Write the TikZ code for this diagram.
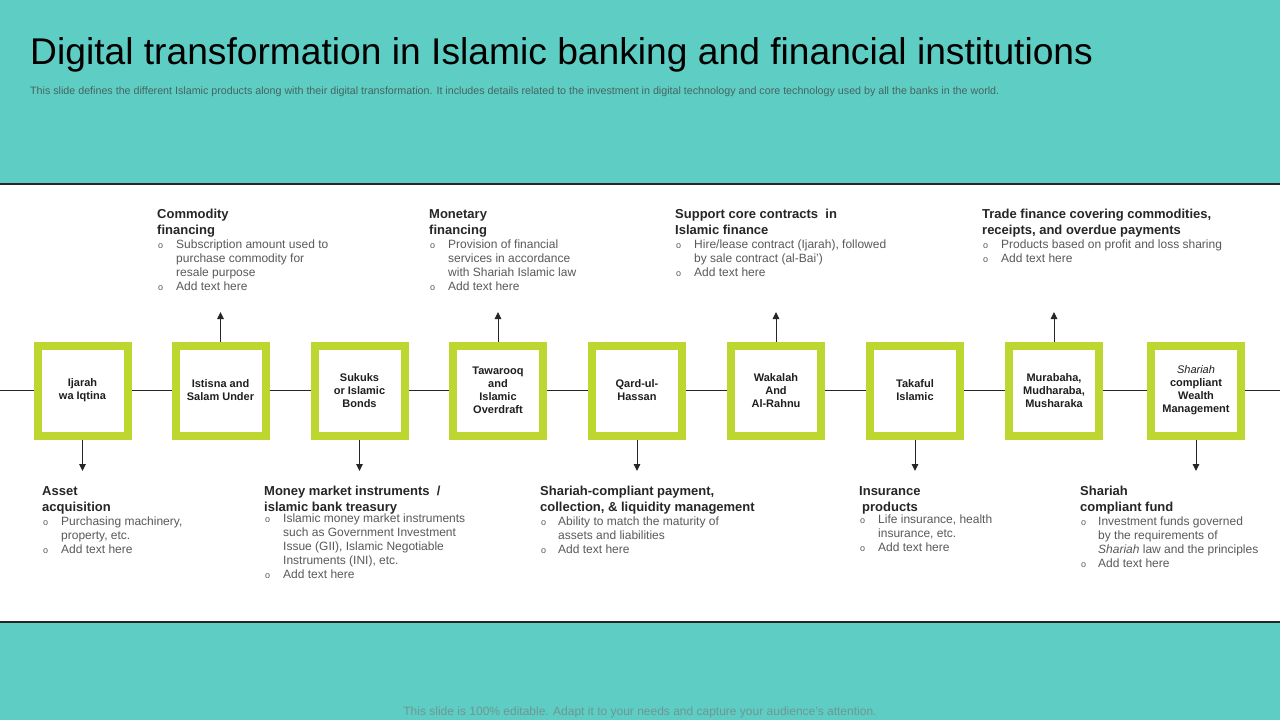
\documentclass[tikz,border=0pt]{standalone}
\usepackage{fontspec}
\setmainfont{Liberation Sans}
\usetikzlibrary{arrows.meta}
\definecolor{teal1}{RGB}{94,205,196}
\definecolor{lime1}{RGB}{190,214,48}
\definecolor{headc}{RGB}{38,38,38}
\definecolor{bodyc}{RGB}{89,89,89}
\definecolor{subc}{RGB}{72,100,97}
\definecolor{footc}{RGB}{112,150,146}
\newcommand\hdrow[1]{\multicolumn{2}{@{}l@{}}{\fontsize{13}{15}\selectfont\bfseries\color{headc}#1}}
\newcommand\bul{\hspace*{1pt}{\fontsize{9}{9}\selectfont o}}
\begin{document}
\begin{tikzpicture}[x=1pt,y=-1pt,
  prod/.style={draw=lime1, line width=8pt, fill=white, minimum width=90pt, minimum height=90pt,
    inner sep=0pt, outer sep=4pt, align=center, font=\fontsize{11}{13}\selectfont\bfseries, text=black!88},
  blk/.style={anchor=base west, inner sep=0pt, font=\fontsize{12}{14}\selectfont, text=bodyc},
  conn/.style={draw=black!85, line width=1pt},
  arr/.style={conn, -{Triangle[length=7pt,width=6.5pt]}},
  sep/.style={draw=black!85, line width=1.1pt}]
\useasboundingbox (0,0) rectangle (1280,720);
\fill[teal1] (0,0) rectangle (1280,184);
\fill[white] (0,184) rectangle (1280,622);
\fill[teal1] (0,622) rectangle (1280,720);
\coordinate (s1l) at (0,184); \coordinate (s1r) at (1280,184);
\coordinate (s2l) at (0,622); \coordinate (s2r) at (1280,622);
\draw[sep] (s1l) -- (s1r);
\draw[sep] (s2l) -- (s2r);

\node[anchor=base west, inner sep=0pt, font=\fontsize{37.2}{40}\selectfont, text=black] (title) at (30,64.5)
  {Digital transformation in Islamic banking and financial institutions};
\node[anchor=base west, inner sep=0pt, font=\fontsize{10.7}{12}\selectfont, text=subc] (sub) at (30,94.5)
  {This slide defines the different Islamic products along with their digital transformation. It includes details related to the investment in digital technology and core technology used by all the banks in the world.};
\node[anchor=base, inner sep=0pt, font=\fontsize{12}{14}\selectfont, text=footc] (foot) at (640,715.5)
  {This slide is 100\% editable. Adapt it to your needs and capture your audience's attention.};

% boxes
\node[prod] (b1) at (82.5,390.5) {Ijarah\\wa Iqtina};
\node[prod] (b2) at (220.5,390.5) {Istisna and\\Salam Under};
\node[prod] (b3) at (359.5,390.5) {Sukuks\\or Islamic\\Bonds};
\node[prod] (b4) at (498,390.5) {Tawarooq\\and\\Islamic\\Overdraft};
\node[prod] (b5) at (637,390.5) {Qard-ul-\\Hassan};
\node[prod] (b6) at (776,390.5) {Wakalah\\And\\Al-Rahnu};
\node[prod] (b7) at (915,390.5) {Takaful\\Islamic};
\node[prod] (b8) at (1054,390.5) {Murabaha,\\Mudharaba,\\Musharaka};
\node[prod] (b9) at (1196,390.5) {{\mdseries\itshape Shariah}\\compliant\\Wealth\\Management};

\coordinate (L) at (0,390.5);
\coordinate (R) at (1280,390.5);
\draw[conn] (L) -- (b1.west);
\draw[conn] (b1.east) -- (b2.west);
\draw[conn] (b2.east) -- (b3.west);
\draw[conn] (b3.east) -- (b4.west);
\draw[conn] (b4.east) -- (b5.west);
\draw[conn] (b5.east) -- (b6.west);
\draw[conn] (b6.east) -- (b7.west);
\draw[conn] (b7.east) -- (b8.west);
\draw[conn] (b8.east) -- (b9.west);
\draw[conn] (b9.east) -- (R);

% arrows
\coordinate (u2) at (220.5,312);
\coordinate (u4) at (498,312);
\coordinate (u6) at (776,312);
\coordinate (u8) at (1054,312);
\coordinate (d1) at (82.5,471);
\coordinate (d3) at (359.5,471);
\coordinate (d5) at (637,471);
\coordinate (d7) at (915,471);
\coordinate (d9) at (1196,471);
\draw[arr] (b2.north) -- (u2);
\draw[arr] (b4.north) -- (u4);
\draw[arr] (b6.north) -- (u6);
\draw[arr] (b8.north) -- (u8);
\draw[arr] (b1.south) -- (d1);
\draw[arr] (b3.south) -- (d3);
\draw[arr] (b5.south) -- (d5);
\draw[arr] (b7.south) -- (d7);
\draw[arr] (b9.south) -- (d9);

% top texts
\node[blk] (t2) at (157,218.5) {\begin{tabular}[t]{@{}p{19pt}@{}l@{}}
\hdrow{Commodity}\\[2pt]
\hdrow{financing}\\
\bul & Subscription amount used to\\
 & purchase commodity for\\
 & resale purpose\\
\bul & Add text here
\end{tabular}};
\node[blk] (t4) at (429,218.5) {\begin{tabular}[t]{@{}p{19pt}@{}l@{}}
\hdrow{Monetary}\\[2pt]
\hdrow{financing}\\
\bul & Provision of financial\\
 & services in accordance\\
 & with Shariah Islamic law\\
\bul & Add text here
\end{tabular}};
\node[blk] (t6) at (675,218.5) {\begin{tabular}[t]{@{}p{19pt}@{}l@{}}
\hdrow{Support core contracts\ \ in}\\[2pt]
\hdrow{Islamic finance}\\
\bul & Hire/lease contract (Ijarah), followed\\
 & by sale contract (al-Bai')\\
\bul & Add text here
\end{tabular}};
\node[blk] (t8) at (982,218.5) {\begin{tabular}[t]{@{}p{19pt}@{}l@{}}
\hdrow{Trade finance covering commodities,}\\[2pt]
\hdrow{receipts, and overdue payments}\\
\bul & Products based on profit and loss sharing\\
\bul & Add text here
\end{tabular}};

% bottom texts
\node[blk] (t1) at (42,495.5) {\begin{tabular}[t]{@{}p{19pt}@{}l@{}}
\hdrow{Asset}\\[2pt]
\hdrow{acquisition}\\
\bul & Purchasing machinery,\\
 & property, etc.\\
\bul & Add text here
\end{tabular}};
\node[blk] (t3) at (264,495.5) {\begin{tabular}[t]{@{}p{19pt}@{}l@{}}
\hdrow{Money market instruments\ \ /}\\[2pt]
\hdrow{islamic bank treasury}\\[-3pt]
\bul & Islamic money market instruments\\
 & such as Government Investment\\
 & Issue (GII), Islamic Negotiable\\
 & Instruments (INI), etc.\\
\bul & Add text here
\end{tabular}};
\node[blk] (t5) at (540,495.5) {\begin{tabular}[t]{@{}p{18pt}@{}l@{}}
\hdrow{Shariah-compliant payment,}\\[2pt]
\hdrow{collection, \& liquidity management}\\
\bul & Ability to match the maturity of\\
 & assets and liabilities\\
\bul & Add text here
\end{tabular}};
\node[blk] (t7) at (859,495.5) {\begin{tabular}[t]{@{}p{19pt}@{}l@{}}
\hdrow{Insurance}\\[2pt]
\hdrow{\hspace*{3pt}products}\\[-2pt]
\bul & Life insurance, health\\
 & insurance, etc.\\
\bul & Add text here
\end{tabular}};
\node[blk] (t9) at (1080,495.5) {\begin{tabular}[t]{@{}p{18pt}@{}l@{}}
\hdrow{Shariah}\\[2pt]
\hdrow{compliant fund}\\
\bul & Investment funds governed\\
 & by the requirements of\\
 & \textit{Shariah} law and the principles\\
\bul & Add text here
\end{tabular}};
\end{tikzpicture}
\end{document}
